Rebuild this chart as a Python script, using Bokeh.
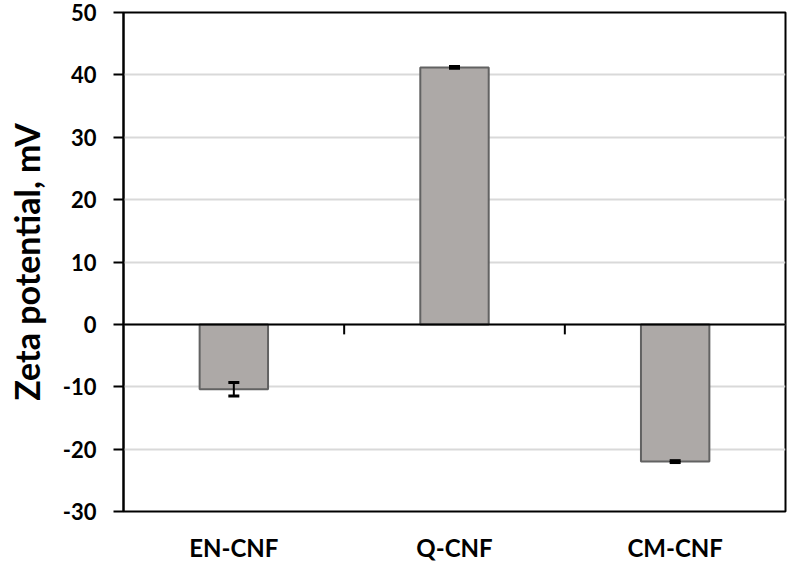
from bokeh.plotting import figure
from bokeh.models import Range1d, FactorRange, ColumnDataSource, Whisker, Span, TeeHead, FixedTicker
from bokeh.embed import file_html
from bokeh.resources import INLINE

categories = ["EN-CNF", "Q-CNF", "CM-CNF"]
zeta = [-10.4, 41.2, -22.0]
err = [1.1, 0.15, 0.15]
y_ticks = [-30, -20, -10, 0, 10, 20, 30, 40, 50]
y_tick_labels = ["-30", "-20", "-10", "0", "10", "20", "30", "40", "50"]

FONT = "Lato"

src = ColumnDataSource(dict(
    x=categories, top=zeta,
    upper=[v + e for v, e in zip(zeta, err)],
    lower=[v - e for v, e in zip(zeta, err)],
))

p = figure(width=789, height=565, x_range=FactorRange(*categories),
           y_range=Range1d(-30, 50), output_backend="svg", toolbar_location=None,
           min_border_left=123, min_border_right=4, min_border_top=12, min_border_bottom=54)

p.vbar(x="x", top="top", bottom=0, width=0.31, source=src,
       fill_color="#ADA9A7", line_color="#626262", line_width=2)

w = Whisker(base="x", upper="upper", lower="lower", source=src,
            line_color="black", line_width=2, level="overlay",
            upper_head=TeeHead(size=11, line_width=3, line_color="black"),
            lower_head=TeeHead(size=11, line_width=3, line_color="black"))
p.add_layout(w)

p.add_layout(Span(location=0, dimension="width", line_color="black", line_width=2))

# category boundary ticks on the zero line
n = len(categories)
tick_len = 10 * 80 / 499
bounds = [float(i) for i in range(1, n)]
p.segment(x0=bounds, x1=bounds, y0=[0] * len(bounds), y1=[-tick_len] * len(bounds),
          line_color="black", line_width=2)

p.outline_line_color = "black"
p.outline_line_width = 2
p.outline_line_alpha = 1

p.xgrid.grid_line_color = None
p.ygrid.grid_line_color = "#D9D9D9"
p.ygrid.grid_line_width = 2

p.yaxis.ticker = FixedTicker(ticks=y_ticks)
p.yaxis.major_label_overrides = {t: s for t, s in zip(y_ticks, y_tick_labels)}
p.yaxis.axis_line_color = "black"
p.yaxis.axis_line_width = 2
p.yaxis.major_tick_line_width = 2
p.yaxis.major_tick_out = 10
p.yaxis.major_tick_in = 0
p.yaxis.minor_tick_line_color = None
p.yaxis.major_label_text_font = FONT
p.yaxis.major_label_text_font_style = "bold"
p.yaxis.major_label_text_font_size = "22px"
p.yaxis.major_label_text_color = "black"
p.yaxis.major_label_standoff = 17
p.yaxis.axis_label = "Zeta potential, mV"
p.yaxis.axis_label_text_font = FONT
p.yaxis.axis_label_text_font_style = "bold"
p.yaxis.axis_label_text_font_size = "34px"
p.yaxis.axis_label_text_color = "black"
p.yaxis.axis_label_standoff = 13

p.xaxis.axis_line_color = None
p.xaxis.major_tick_line_color = None
p.xaxis.minor_tick_line_color = None
p.xaxis.major_label_text_font = FONT
p.xaxis.major_label_text_font_style = "bold"
p.xaxis.major_label_text_font_size = "24px"
p.xaxis.major_label_text_color = "black"
p.xaxis.major_label_standoff = 15

open("out.html", "w").write(file_html(p, INLINE))
